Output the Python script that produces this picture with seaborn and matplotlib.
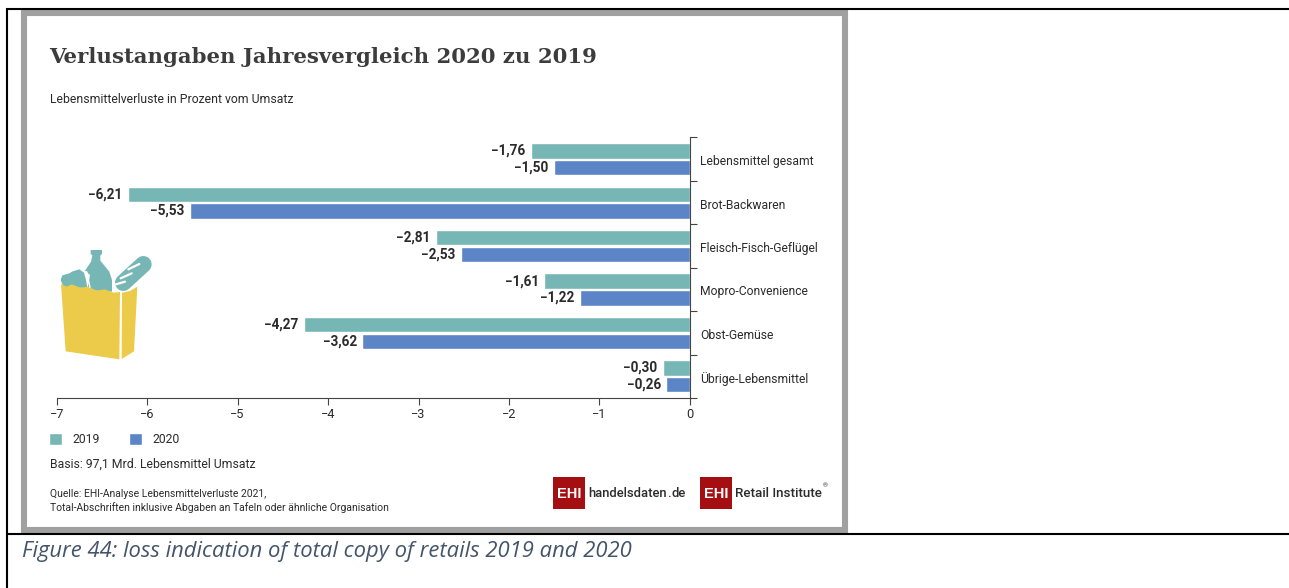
import matplotlib
matplotlib.use("Agg")
import matplotlib.pyplot as plt
from matplotlib.patches import Polygon, Rectangle
from matplotlib.lines import Line2D
from matplotlib.ticker import FixedLocator
from matplotlib.transforms import ScaledTranslation
import pandas as pd
import seaborn as sns

W, H = 1289, 588

categories = ["Lebensmittel gesamt", "Brot-Backwaren", "Fleisch-Fisch-Geflügel",
              "Mopro-Convenience", "Obst-Gemüse", "Übrige-Lebensmittel"]
values_2019 = [-1.76, -6.21, -2.81, -1.61, -4.27, -0.30]
values_2020 = [-1.50, -5.53, -2.53, -1.22, -3.62, -0.26]
x_ticks = [-7, -6, -5, -4, -3, -2, -1, 0]
years = ["2019", "2020"]
year_colors = ["#76B7B5", "#5B85C7"]

TEXT = "#2b2b2b"
SANS = ["Roboto", "DejaVu Sans"]

sns.set_theme(style="white")
plt.rcParams["font.family"] = SANS

df = pd.DataFrame({
    "Kategorie": categories * 2,
    "Verlust": values_2019 + values_2020,
    "Jahr": [years[0]] * 6 + [years[1]] * 6,
})


def fx(px):
    return px / W


def fy(py):
    return 1 - py / H


def px_poly(points, **kw):
    return Polygon([(fx(a), fy(b)) for a, b in points], closed=True,
                   transform=fig.transFigure, **kw)


def px_rect(x0, y0, x1, y1, **kw):
    return Rectangle((fx(x0), fy(y1)), (x1 - x0) / W, (y1 - y0) / H,
                     transform=fig.transFigure, **kw)


def px_line(x0, y0, x1, y1, color="black", lw=1.5, cap="butt"):
    fig.add_artist(Line2D([fx(x0), fx(x1)], [fy(y0), fy(y1)], color=color, lw=lw,
                          transform=fig.transFigure, solid_capstyle=cap))


def px_text(x, y, s, **kw):
    kw.setdefault("va", "center")
    kw.setdefault("color", TEXT)
    return fig.text(fx(x), fy(y), s, **kw)


fig = plt.figure(figsize=(W / 100, H / 100), dpi=100, facecolor="white")

# Document table rules around the graphic
px_line(6, 9, 1289, 9)
px_line(7, 8, 7, 588)
px_line(6, 534, 1289, 534)

# Grey frame of the graphic
fig.add_artist(px_rect(24, 12.5, 845, 530, facecolor="white", edgecolor="#A0A0A0", linewidth=4.4))

ax = fig.add_axes([fx(56.7), fy(398), (689.9 - 56.7) / W, (398 - 137.5) / H], zorder=5)
ax.patch.set_alpha(0)
sns.barplot(data=df, x="Verlust", y="Kategorie", hue="Jahr", palette=year_colors,
            orient="y", width=0.77, gap=0.08, saturation=1, ax=ax)

ax.set_xlim(-7, 0)
ax.set_ylim(5.5, -0.5)
ax.set_xlabel("")
ax.set_ylabel("")
ax.set_xticks(x_ticks)
ax.set_xticklabels([str(t).replace("-", "\u2212") for t in x_ticks])
ax.yaxis.tick_right()
ax.yaxis.set_minor_locator(FixedLocator([i - 0.5 for i in range(7)]))
ax.tick_params(axis="y", which="major", length=0, pad=7.5, labelsize=8.7, labelcolor=TEXT)
ax.tick_params(axis="y", which="minor", length=5, width=0.8, color="#444444", right=True, left=False, direction="out")
ax.tick_params(axis="x", which="major", length=5, width=0.8, color="#444444", pad=2.2,
               labelsize=9.2, labelcolor=TEXT, bottom=True)
for side in ["top", "left"]:
    ax.spines[side].set_visible(False)
for side in ["right", "bottom"]:
    ax.spines[side].set_visible(True)
    ax.spines[side].set_color("#444444")
    ax.spines[side].set_linewidth(0.8)

# Category names sit slightly below the centre of their bar pair
nudge = ScaledTranslation(0, -1.0 / 100, fig.dpi_scale_trans)
for label in ax.get_yticklabels():
    label.set_transform(label.get_transform() + nudge)

for container in ax.containers:
    labels = [f"{bar.get_width():.2f}".replace(".", ",").replace("-", "\u2212") for bar in container]
    ax.bar_label(container, labels=labels, padding=4, fontsize=9.8, fontweight="bold", color=TEXT)

sns.move_legend(ax, "lower left", bbox_to_anchor=(fx(49.2), fy(446)), bbox_transform=fig.transFigure,
                ncol=2, frameon=False, title=None, fontsize=8.7, handlelength=1.1, handleheight=1.1,
                handletextpad=0.8, columnspacing=2.45, borderaxespad=0, borderpad=0, labelcolor=TEXT)

# Headings and notes
px_text(49, 57, "Verlustangaben Jahresvergleich 2020 zu 2019", family="DejaVu Serif", fontweight="bold",
        fontsize=15.3, color="#3c3c3c")
px_text(49.5, 99.7, "Lebensmittelverluste in Prozent vom Umsatz", fontsize=8.8)
px_text(49.5, 464, "Basis: 97,1 Mrd. Lebensmittel Umsatz", fontsize=8.8)
px_text(49.5, 494, "Quelle: EHI-Analyse Lebensmittelverluste 2021,", fontsize=7.5)
px_text(49.5, 507.5, "Total-Abschriften inklusive Abgaben an Tafeln oder ähnliche Organisation", fontsize=7.5)

# Shopping bag illustration
TEAL = "#76B7B5"
BAG = "#EBCB49"


def bag_xy(a, b):
    return 30 + a / 3, 230 + b / 3


def bag_poly(pts, **kw):
    fig.add_artist(px_poly([bag_xy(a, b) for a, b in pts], **kw))


def bag_stroke(a, b, color, lw):
    px_line(*bag_xy(*a), *bag_xy(*b), color=color, lw=lw, cap="round")


# bottle
bag_poly([(182, 60), (216, 60), (216, 72), (211, 76), (211, 92), (238, 125), (246, 150), (246, 185),
          (172, 180), (180, 135), (165, 122), (183, 95), (187, 76), (182, 72)], facecolor=TEAL, edgecolor="none")
# baguette with its score marks
bag_stroke((280, 158), (340, 103), TEAL, 12)
bag_stroke((272, 145), (305, 130), "white", 1.6)
bag_stroke((258, 163), (285, 155), "white", 1.6)
bag_stroke((295, 118), (328, 102), "white", 1.6)
# fruit beside the bottle
bag_poly([(92, 150), (97, 136), (118, 130), (128, 124), (148, 118), (162, 128), (168, 150), (172, 175), (100, 170)],
         facecolor=TEAL, edgecolor="none")
bag_stroke((170, 125), (180, 172), "white", 1.0)
# paper bag, front and side
bag_poly([(93, 162), (110, 170), (125, 163), (150, 173), (175, 170), (200, 182), (225, 178), (250, 188), (270, 186),
          (268, 388), (107, 364)], facecolor=BAG, edgecolor="none")
bag_poly([(276, 188), (300, 183), (322, 170), (312, 364), (275, 387)], facecolor=BAG, edgecolor="none")

# Logos
RED = "#A50F12"
fig.add_artist(px_rect(553, 477, 585, 509, facecolor=RED, edgecolor="none"))
fig.add_artist(px_rect(700, 477, 732, 509, facecolor=RED, edgecolor="none"))
for x in (569, 716):
    px_text(x, 493.5, "EHI", color="white", fontweight="bold", ha="center", fontsize=10.5, family="Liberation Sans")
renderer = fig.canvas.get_renderer()
cursor = 588
for piece, tint in [("handelsdaten", TEXT), (".", RED), ("de", TEXT)]:
    t = px_text(cursor, 493.5, piece, color=tint, fontsize=9.4, family="Roboto", fontweight="medium")
    cursor = t.get_window_extent(renderer).x1 + 0.5
px_text(735, 493.5, "Retail Institute", fontsize=9.65, family="Roboto", fontweight="medium")
px_text(822.5, 486, "®", fontsize=4.5)

# Figure caption under the table row
px_text(22, 552, "Figure 44: loss indication of total copy of retails 2019 and 2020", fontsize=15.82,
        family="Open Sans", style="italic", color="#44546A")

fig.savefig("out.png", dpi=100)
